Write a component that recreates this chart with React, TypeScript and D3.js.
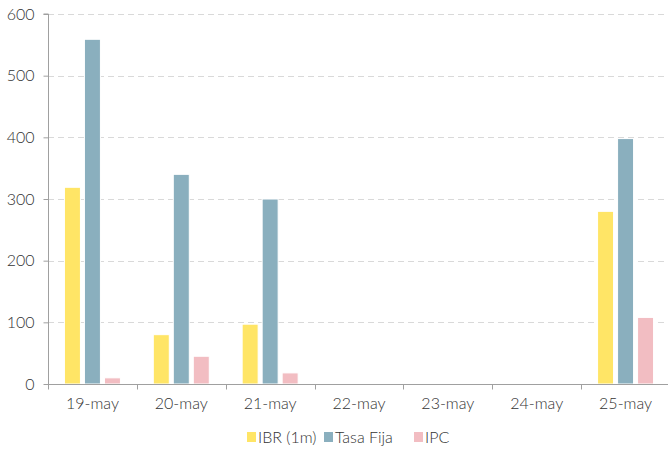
import { useEffect, useRef } from 'react'
import * as d3 from 'd3'

const categories = ['19-may', '20-may', '21-may', '22-may', '23-may', '24-may', '25-may']
const seriesNames = ['IBR (1m)', 'Tasa Fija', 'IPC']
const ibr = [319, 80, 97, 0, 0, 0, 280]
const tasaFija = [559, 340, 300, 0, 0, 0, 398]
const ipc = [10, 45, 18, 0, 0, 0, 108]
const colors = ['#ffe566', '#8aafbe', '#f2bdc2']
const yTicks = [0, 100, 200, 300, 400, 500, 600]

export default function App() {
  const ref = useRef<SVGSVGElement>(null)

  useEffect(() => {
    if (!ref.current) return
    const width = 668
    const height = 451
    const margin = { top: 14, right: -2, bottom: 67, left: 48 }
    const font = 'Lato, "Open Sans", sans-serif'

    const svg = d3.select(ref.current)
    svg.selectAll('*').remove()

    const values = [ibr, tasaFija, ipc]
    const x0 = d3.scaleBand().domain(categories).range([margin.left, width - margin.right])
    const groupW = 56
    const x1 = d3.scaleBand().domain(seriesNames).range([0, groupW]).paddingInner(0.2).paddingOuter(0)
    const y = d3.scaleLinear().domain([0, 600]).range([height - margin.bottom, margin.top])

    // gridlines
    svg
      .append('g')
      .selectAll('line')
      .data(yTicks.filter((t) => t > 0))
      .join('line')
      .attr('x1', margin.left)
      .attr('x2', width)
      .attr('y1', (d) => Math.round(y(d)) + 0.5)
      .attr('y2', (d) => Math.round(y(d)) + 0.5)
      .attr('stroke', '#d9d9d9')
      .attr('stroke-dasharray', '6,4')

    // bars
    categories.forEach((c, i) => {
      const g = svg.append('g').attr('transform', `translate(${x0(c)! + (x0.bandwidth() - groupW) / 2},0)`)
      seriesNames.forEach((s, j) => {
        const v = values[j][i]
        if (!v) return
        g.append('rect')
          .attr('x', x1(s)!)
          .attr('y', y(v))
          .attr('width', x1.bandwidth())
          .attr('height', y(0) - y(v))
          .attr('fill', colors[j])
          .attr('stroke', '#ffffff')
          .attr('stroke-width', 1)
      })
    })

    // y axis
    const yAxis = svg
      .append('g')
      .attr('transform', `translate(${margin.left + 0.5},0)`)
      .call(d3.axisLeft(y).tickValues(yTicks).tickSize(5).tickPadding(9))
    yAxis.selectAll('path, line').attr('stroke', '#a0a0a0')
    yAxis.select('.domain').attr('d', `M-5,${y(600)}H0V${y(0)}`)
    yAxis
      .selectAll('text')
      .attr('fill', '#333')
      .style('font-family', font)
      .style('font-weight', '300')
      .style('font-size', '16px')

    // x axis
    const xAxis = svg
      .append('g')
      .attr('transform', `translate(0,${Math.round(y(0)) + 0.5})`)
      .call(d3.axisBottom(x0).tickSize(0).tickPadding(13))
    xAxis.select('.domain').attr('stroke', '#a0a0a0').attr('d', `M${margin.left},0H${width}`)
    xAxis
      .selectAll('text')
      .attr('fill', '#333')
      .style('font-family', font)
      .style('font-weight', '300')
      .style('font-size', '16px')
    xAxis
      .append('g')
      .selectAll('line')
      .data(categories)
      .join('line')
      .attr('x1', (d) => Math.round(x0(d)!) + 0.5)
      .attr('x2', (d) => Math.round(x0(d)!) + 0.5)
      .attr('y1', 0)
      .attr('y2', 5)
      .attr('stroke', '#a0a0a0')

    // legend
    const legendX = [247, 324, 414]
    const legend = svg.append('g')
    seriesNames.forEach((s, j) => {
      legend
        .append('rect')
        .attr('x', legendX[j])
        .attr('y', 432)
        .attr('width', 9)
        .attr('height', 10)
        .attr('fill', colors[j])
      legend
        .append('text')
        .attr('x', legendX[j] + 11)
        .attr('y', 443)
        .attr('fill', '#333')
        .style('font-family', font)
        .style('font-weight', '300')
        .style('font-size', '16px')
        .text(s)
    })
  }, [])

  return (
    <div style={{ position: 'absolute', left: 0, top: 0 }}>
      <svg ref={ref} width={668} height={451} />
    </div>
  )
}
